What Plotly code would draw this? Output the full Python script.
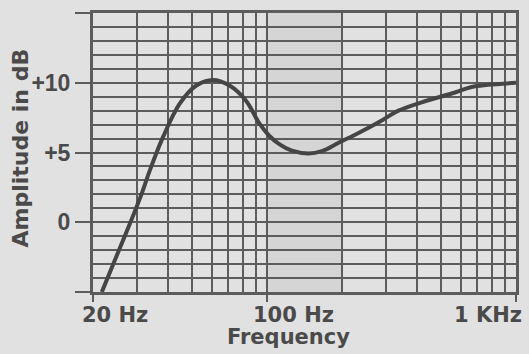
import numpy as np
import plotly.graph_objects as go

# Data
freq_hz = [21.7, 24.5, 27.7, 31.3, 33.8, 38.2, 44.6, 52, 60.6, 70.7, 82.5, 93,
           102, 112, 125, 147, 166, 194, 233, 289, 337, 418, 569, 663, 772, 1000]
amp_db = [-5.0, -2.7, -0.4, 2.0, 3.7, 6.1, 8.5, 9.8, 10.2, 9.8, 8.7, 7.1,
          6.2, 5.6, 5.15, 4.93, 5.1, 5.7, 6.4, 7.3, 8.0, 8.6, 9.3, 9.7, 9.85, 10.0]

x_tick_vals = [20, 100, 1000]
x_tick_labels = ["20 Hz", "100 Hz", "1 KHz"]
x_grid_vals = [30, 40, 50, 60, 70, 80, 90, 200, 300, 400, 500, 600, 700, 800, 900]
y_tick_vals = [-5, 0, 5, 10, 15]
y_tick_labels = ["", "0", "+5", "+10", ""]
band_hz = [100, 200]

INK = "#4a4a4a"
GRID = "#5c5c5c"
FONT = dict(family="DejaVu Sans", size=21, color=INK, weight="bold")
YFONT = dict(family="Liberation Sans", size=23, color=INK, weight="bold")

fig = go.Figure()
fig.add_trace(go.Scatter(
    x=freq_hz, y=amp_db, mode="lines",
    line=dict(color="#454545", width=4, shape="spline", smoothing=1.0),
    hoverinfo="skip", showlegend=False,
))

fig.add_shape(type="rect", xref="x", yref="y",
              x0=band_hz[0], x1=band_hz[1],
              y0=y_tick_vals[0], y1=y_tick_vals[-1],
              fillcolor="#d5d5d5", line=dict(width=0), layer="below")

fig.update_xaxes(
    type="log", range=[np.log10(20), 3],
    tickvals=x_tick_vals, ticktext=["", "", ""],
    ticks="outside", ticklen=7, tickwidth=2, tickcolor=GRID,
    showgrid=True, gridcolor=GRID, gridwidth=2,
    minor=dict(tickvals=x_grid_vals, showgrid=True, gridcolor=GRID, gridwidth=2, ticks=""),
    showline=True, linecolor=GRID, linewidth=3, mirror=True,
    zeroline=False, fixedrange=True,
)
fig.update_yaxes(
    range=[-5, 15],
    tickvals=y_tick_vals, ticktext=y_tick_labels, tickfont=YFONT,
    ticks="outside", ticklen=15, tickwidth=2, tickcolor=GRID,
    showgrid=True, gridcolor=GRID, gridwidth=2,
    minor=dict(dtick=1, showgrid=True, gridcolor=GRID, gridwidth=2, ticks=""),
    showline=True, linecolor=GRID, linewidth=3, mirror=True,
    zeroline=False, fixedrange=True,
)

anns = []
shifts = [(-13, "left"), (-16, "left"), (8, "right")]
for v, t, (sh, anc) in zip(x_tick_vals, x_tick_labels, shifts):
    anns.append(dict(x=np.log10(v), xref="x", y=0, yref="paper", text=t,
                     showarrow=False, xanchor=anc, yanchor="top",
                     xshift=sh, yshift=-9, font=FONT))
anns.append(dict(x=0, xref="paper", y=0, yref="paper", text="Frequency",
                 showarrow=False, xanchor="left", yanchor="top",
                 xshift=132, yshift=-31, font=FONT))
anns.append(dict(x=0, xref="paper", y=0.5, yref="paper", text="Amplitude in dB",
                 showarrow=False, xanchor="center", yanchor="middle", textangle=-90,
                 xshift=-73, yshift=4, font=dict(FONT, size=22)))

fig.update_layout(
    width=529, height=354,
    margin=dict(l=93, r=10, t=12, b=62),
    paper_bgcolor="#e1e1e1", plot_bgcolor="rgba(0,0,0,0)",
    annotations=anns, showlegend=False,
)
fig.write_html("out.html", config={"displayModeBar": False},
               post_script="document.body.style.margin='0';")
